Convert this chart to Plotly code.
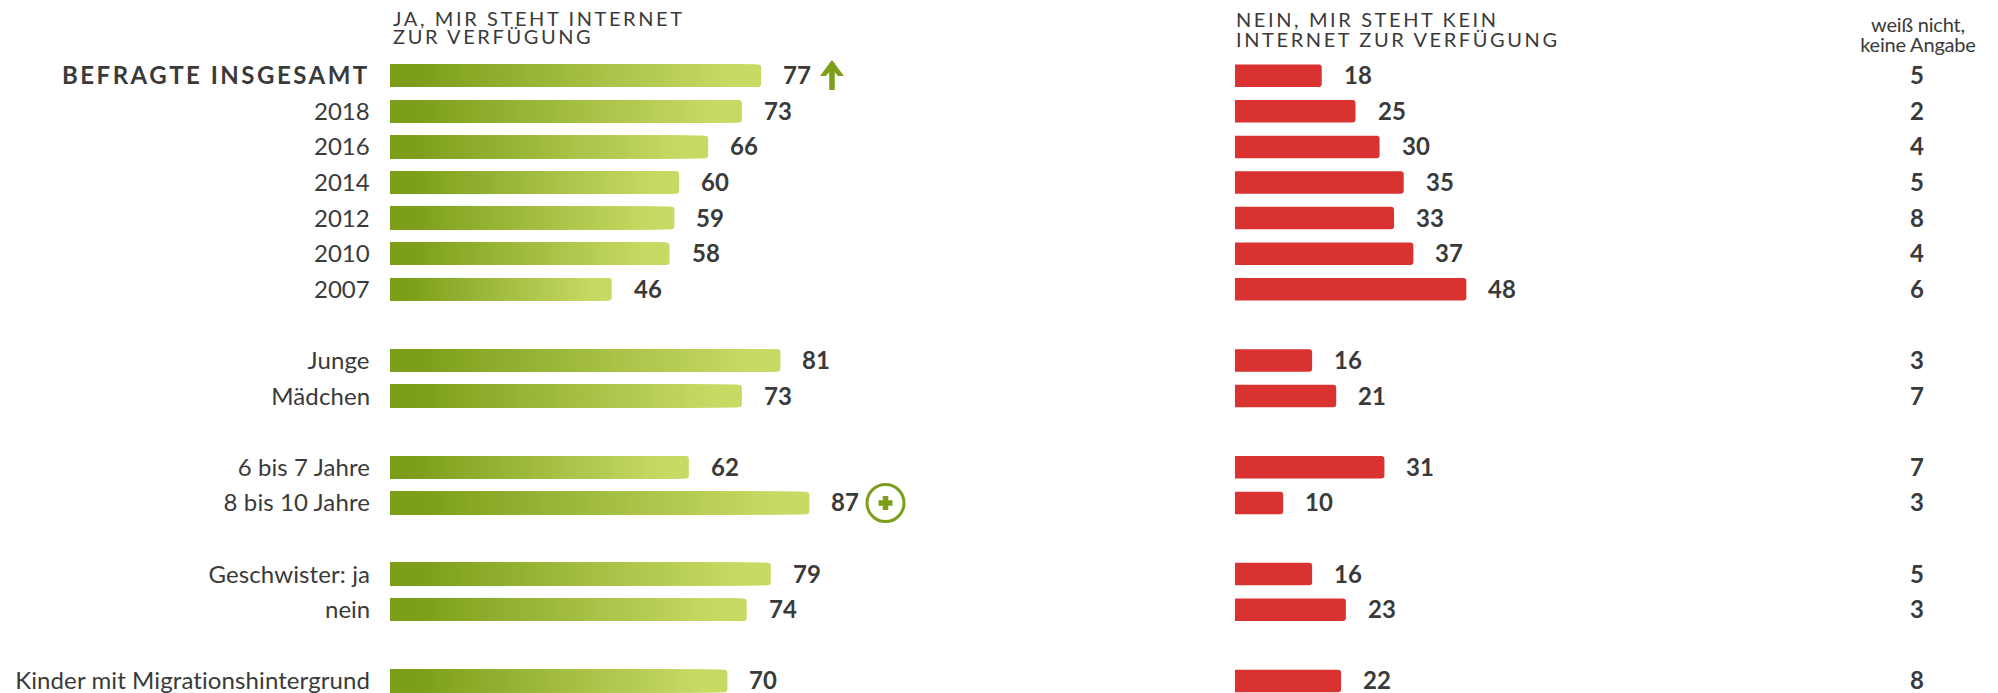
import plotly.graph_objects as go

# ---------- data ----------
labels = ["BEFRAGTE INSGESAMT", "2018", "2016", "2014", "2012", "2010", "2007",
          "Junge", "Mädchen", "6 bis 7 Jahre", "8 bis 10 Jahre",
          "Geschwister: ja", "nein", "Kinder mit Migrationshintergrund"]
rows = [0, 1, 2, 3, 4, 5, 6, 8, 9, 11, 12, 14, 15, 17]
ja = [77, 73, 66, 60, 59, 58, 46, 81, 73, 62, 87, 79, 74, 70]
nein = [18, 25, 30, 35, 33, 37, 48, 16, 21, 31, 10, 16, 23, 22]
weiss = [5, 2, 4, 5, 8, 4, 6, 3, 7, 7, 3, 5, 3, 8]
header_ja = ["JA, MIR STEHT INTERNET", "ZUR VERFÜGUNG"]
header_nein = ["NEIN, MIR STEHT KEIN", "INTERNET ZUR VERFÜGUNG"]
header_weiss = ["weiß nicht,", "keine Angabe"]

# ---------- style / layout ----------
W, H = 1998, 693
TEXT = "#3a3a3a"
DARK, LIGHT = (124, 158, 26), (198, 218, 100)
RED = "#da3131"
GREEN = "#7c9e1a"
PX = 4.82
X1, X2 = 390, 1235
ROW0, ROWH = 75.7, 35.6
FONT = "Lato"
STEPS = 70


def lerp(t):
    t = min(max((t - 0.08) / 0.84, 0), 1)
    return "rgb(%d,%d,%d)" % tuple(round(a + (b - a) * t) for a, b in zip(DARK, LIGHT))


fig = go.Figure()
# nested bars, longest first, produce a smooth gradient along every bar
for i in range(STEPS):
    f = 1 - i / STEPS
    fig.add_bar(y=rows, x=[v * f for v in ja], orientation="h", xaxis="x", yaxis="y",
                marker=dict(color=lerp(f), line_width=0), width=22.5 / ROWH,
                hoverinfo="skip", showlegend=False)
fig.add_bar(y=rows, x=nein, orientation="h", xaxis="x2", yaxis="y",
            marker=dict(color=RED, line_width=0), width=22.5 / ROWH,
            hoverinfo="skip", showlegend=False)

ann = []
vfont = dict(family=FONT, size=24, color=TEXT, weight=700)
for i, (r, a, n, w) in enumerate(zip(rows, ja, nein, weiss)):
    text = "<b>" + labels[i] + "</b>" if i == 0 else labels[i]
    ann.append(dict(x=371.5 / W, y=r, xref="paper", yref="y", text=text, showarrow=False,
                    xanchor="right", align="right", yshift=1,
                    font=dict(family=FONT, size=24, color=TEXT)))
    ann.append(dict(x=a, y=r, xref="x", yref="y", text=str(a), showarrow=False,
                    xanchor="left", xshift=20, yshift=1, font=vfont))
    ann.append(dict(x=n, y=r, xref="x2", yref="y", text=str(n), showarrow=False,
                    xanchor="left", xshift=20, yshift=1, font=vfont))
    ann.append(dict(x=1917 / W, y=r, xref="paper", yref="y", text=str(w), showarrow=False,
                    xanchor="center", yshift=1, font=vfont))


def header(lines, x, ys, anchor, size):
    for line, y in zip(lines, ys):
        ann.append(dict(x=x / W, y=1 - y / H, xref="paper", yref="paper", text=line,
                        showarrow=False, xanchor=anchor, align=anchor, yanchor="middle",
                        font=dict(family=FONT, size=size, color=TEXT)))


header(header_ja, 391, [17.5, 36.5], "left", 20)
header(header_nein, 1234, [19.5, 38.5], "left", 20)
header(header_weiss, 1918, [24, 43.5], "center", 20)


def P(x, y):
    return "%.4f %.4f" % (x / W, 1 - y / H)


shapes = [
    # up arrow next to the first row
    dict(type="path", xref="paper", yref="paper", line=dict(color=GREEN, width=5.5),
         path="M" + P(832, 90) + " L" + P(832, 63)),
    dict(type="path", xref="paper", yref="paper", line=dict(color=GREEN, width=0), fillcolor=GREEN,
         path="M" + P(832, 60) + " L" + P(844, 76) + " L" + P(838, 76) + " L" + P(832, 69)
              + " L" + P(826, 76) + " L" + P(820, 76) + " Z"),
    # plus in a circle next to "8 bis 10 Jahre"
    dict(type="circle", xref="paper", yref="paper", line=dict(color=GREEN, width=3),
         x0=(885.5 - 18.5) / W, x1=(885.5 + 18.5) / W, y0=1 - (503 + 18.5) / H, y1=1 - (503 - 18.5) / H),
    dict(type="path", xref="paper", yref="paper", line=dict(color=GREEN, width=5.5),
         path="M" + P(878.5, 503) + " L" + P(892.5, 503) + " M" + P(885.5, 496) + " L" + P(885.5, 510)),
]

fig.update_layout(
    width=W, height=H, margin=dict(l=0, r=0, t=0, b=0),
    paper_bgcolor="white", plot_bgcolor="white",
    barmode="overlay", barcornerradius=3, showlegend=False,
    annotations=ann, shapes=shapes,
    xaxis=dict(domain=[X1 / W, X2 / W], range=[0, (X2 - X1) / PX], visible=False),
    xaxis2=dict(domain=[X2 / W, 1], range=[0, (W - X2) / PX], visible=False),
    yaxis=dict(domain=[0, 1], range=[(H - ROW0) / ROWH, -ROW0 / ROWH], anchor="x",
               visible=False),
)

post = """
document.body.style.margin = '0';
document.body.style.overflow = 'hidden';
var gd = document.querySelector('.js-plotly-plot');
gd.querySelectorAll('.annotation-text').forEach(function (t) {
  var s = t.textContent;
  if (s === 'BEFRAGTE INSGESAMT') { t.style.letterSpacing = '2.5px'; }
  else if (/^[A-ZÜ ,]+$/.test(s)) { t.style.letterSpacing = '2.6px'; }
  else if (/^(weiß|keine)/.test(s)) { t.style.letterSpacing = '-0.2px'; }
  else if (/^[A-Z6-8]/.test(s) && s.length > 2) { t.style.letterSpacing = '0.1px'; }
});
"""
fig.write_html("out.html", post_script=post, config={"displayModeBar": False})
